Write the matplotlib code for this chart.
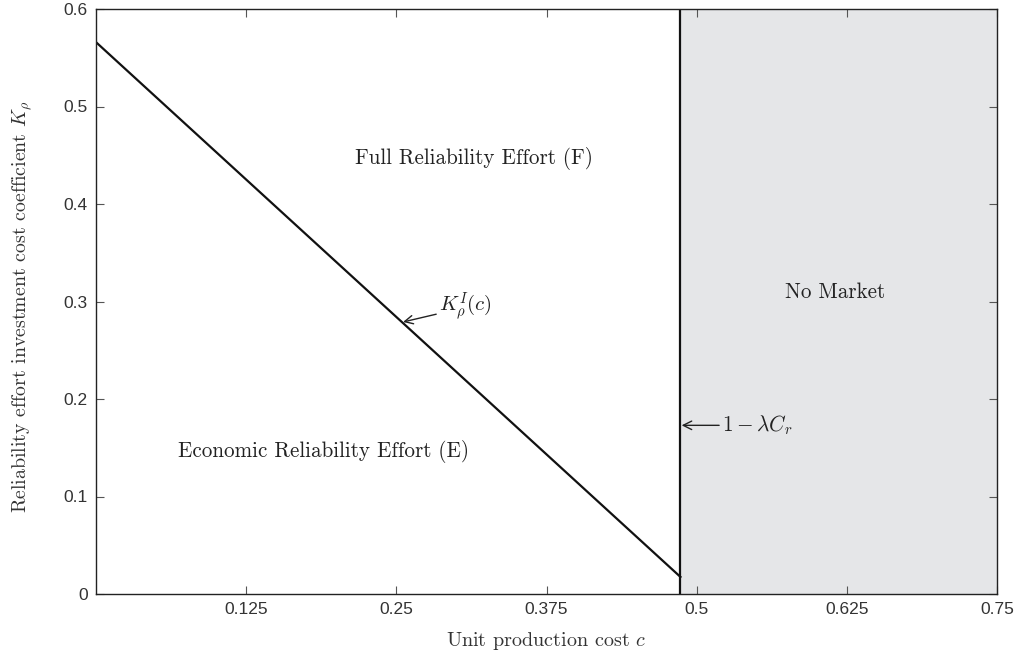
import matplotlib
matplotlib.use("Agg")
import matplotlib.pyplot as plt
import numpy as np

plt.rcParams['mathtext.fontset'] = 'cm'

# Data
curve_x = [0.0, 0.4865]
curve_y = [0.566, 0.0175]
boundary_c = 0.4865
x_max = 0.75
y_max = 0.6
xticks = [0.125, 0.25, 0.375, 0.5, 0.625, 0.75]
xtick_labels = ['0.125', '0.25', '0.375', '0.5', '0.625', '0.75']
yticks = [0, 0.1, 0.2, 0.3, 0.4, 0.5, 0.6]
ytick_labels = ['0', '0.1', '0.2', '0.3', '0.4', '0.5', '0.6']

fig = plt.figure(figsize=(10.16, 6.55), dpi=100)
ax = fig.add_axes([96/1016, (655-594)/655, (997-96)/1016, (594-9)/655])

ax.axvspan(boundary_c, x_max, color='#e5e6e8', zorder=0)
ax.plot(curve_x, curve_y, color='#111111', lw=1.6)
ax.plot([boundary_c, boundary_c], [0, y_max], color='#111111', lw=1.6)

ax.set_xlim(0, x_max)
ax.set_ylim(0, y_max)
ax.set_xticks(xticks)
ax.set_xticklabels(xtick_labels)
ax.set_yticks(yticks)
ax.set_yticklabels(ytick_labels)
ax.tick_params(direction='in', top=True, right=True, length=6, width=0.8,
               colors='#555555', labelcolor='#333333', labelsize=12.5, pad=6)
for lab in ax.get_xticklabels() + ax.get_yticklabels():
    lab.set_fontfamily('Liberation Sans')
for sp in ax.spines.values():
    sp.set_color('#222222')
    sp.set_linewidth(1.0)

ax.set_xlabel('Unit production cost $c$', fontsize=14.5, family='cmr10', color='#333333')
ax.set_ylabel(r'Reliability effort investment cost coefficient $K_\rho$', fontsize=14.3,
              family='cmr10', color='#333333')
ax.xaxis.set_label_coords(0.5, -0.062)
ax.yaxis.set_label_coords(-0.069, 0.49)

txt_kw = dict(fontsize=15.2, family='cmr10', color='#222222', ha='center', va='center')
ax.text(0.315, 0.447, 'Full Reliability Effort (F)', **txt_kw)
ax.text(0.189, 0.146, 'Economic Reliability Effort (E)', **txt_kw)
ax.text(0.615, 0.31, 'No Market', **txt_kw)

ax.annotate(r'$K_\rho^I(c)$', xy=(0.2556, 0.279), xytext=(0.2855, 0.294),
            fontsize=15, color='#222222', ha='left', va='center',
            arrowprops=dict(arrowstyle='->', color='#222222', lw=1.0, shrinkA=0, shrinkB=0))
ax.annotate(r'$1-\lambda C_r$', xy=(boundary_c + 0.001, 0.173), xytext=(0.521, 0.173),
            fontsize=15.3, color='#222222', ha='left', va='center',
            arrowprops=dict(arrowstyle='->', color='#222222', lw=1.0, shrinkA=0, shrinkB=0))

fig.savefig('out.png', dpi=100)
